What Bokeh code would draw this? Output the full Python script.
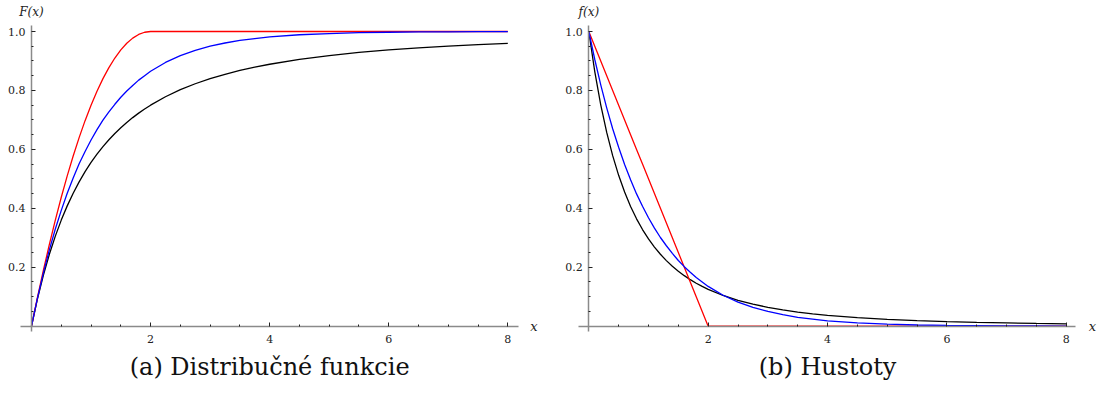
from bokeh.plotting import figure
from bokeh.layouts import row
from bokeh.models import FixedTicker, Label, Range1d
from bokeh.embed import file_html
from bokeh.resources import INLINE

# ---- data ----
x_vals = [0, 0.1, 0.2, 0.3, 0.4, 0.5, 0.6, 0.7, 0.8, 0.9, 1.0, 1.1, 1.2, 1.3, 1.4,
          1.5, 1.6, 1.7, 1.8, 1.9, 2.0,
          2.25, 2.5, 2.75, 3.0, 3.25, 3.5, 3.75, 4.0,
          4.5, 5.0, 5.5, 6.0, 6.5, 7.0, 7.5, 8.0]

cdf_black = [0, 0.093, 0.1736, 0.2439, 0.3056, 0.36, 0.4083, 0.4513, 0.4898, 0.5244,
             0.5556, 0.5838, 0.6094, 0.6327, 0.654, 0.6735, 0.6914, 0.7078, 0.723,
             0.737, 0.75,
             0.7785, 0.8025, 0.8227, 0.84, 0.8549, 0.8678, 0.879, 0.8889,
             0.9053, 0.9184, 0.9289, 0.9375, 0.9446, 0.9506, 0.9557, 0.96]
cdf_blue = [0, 0.095, 0.181, 0.259, 0.330, 0.393, 0.451, 0.503, 0.551, 0.593, 0.632,
            0.667, 0.699, 0.727, 0.753, 0.777, 0.798, 0.817, 0.835, 0.850, 0.865,
            0.895, 0.918, 0.936, 0.950, 0.961, 0.970, 0.976, 0.982,
            0.989, 0.993, 0.996, 0.9975, 0.9985, 0.999, 0.9994, 0.9997]
cdf_red = [0, 0.0975, 0.19, 0.2775, 0.36, 0.4375, 0.51, 0.5775, 0.64, 0.6975, 0.75,
           0.7975, 0.84, 0.8775, 0.91, 0.9375, 0.96, 0.9775, 0.99, 0.9975, 1.0,
           1.0, 1.0, 1.0, 1.0, 1.0, 1.0, 1.0, 1.0,
           1.0, 1.0, 1.0, 1.0, 1.0, 1.0, 1.0, 1.0]

pdf_black = [1.0, 0.8638, 0.7513, 0.6575, 0.5787, 0.512, 0.4552, 0.4064, 0.3644, 0.328,
             0.2963, 0.2685, 0.2441, 0.2226, 0.2035, 0.1866, 0.1715, 0.1579, 0.1458,
             0.1349, 0.125,
             0.1042, 0.0878, 0.0746, 0.064, 0.0553, 0.0481, 0.0421, 0.037,
             0.0291, 0.0233, 0.019, 0.0156, 0.013, 0.011, 0.0093, 0.008]
pdf_blue = [1.0, 0.905, 0.819, 0.741, 0.670, 0.607, 0.549, 0.497, 0.449, 0.407, 0.368,
            0.333, 0.301, 0.273, 0.247, 0.223, 0.202, 0.183, 0.165, 0.150, 0.135,
            0.105, 0.082, 0.064, 0.050, 0.039, 0.030, 0.024, 0.018,
            0.011, 0.007, 0.004, 0.0025, 0.0015, 0.001, 0.0006, 0.0003]
pdf_red = [1.0, 0.95, 0.9, 0.85, 0.8, 0.75, 0.7, 0.65, 0.6, 0.55, 0.5, 0.45, 0.4, 0.35,
           0.3, 0.25, 0.2, 0.15, 0.1, 0.05, 0.0,
           0.0, 0.0, 0.0, 0.0, 0.0, 0.0, 0.0, 0.0,
           0.0, 0.0, 0.0, 0.0, 0.0, 0.0, 0.0, 0.0]

x_major = [2, 4, 6, 8]
x_minor = [0.5, 1, 1.5, 2.5, 3, 3.5, 4.5, 5, 5.5, 6.5, 7, 7.5]
y_major = [0.2, 0.4, 0.6, 0.8, 1.0]
y_minor = [0.05, 0.1, 0.15, 0.25, 0.3, 0.35, 0.45, 0.5, 0.55, 0.65, 0.7, 0.75,
           0.85, 0.9, 0.95]
y_labels = {0.2: "0.2", 0.4: "0.4", 0.6: "0.6", 0.8: "0.8", 1.0: "1.0"}

captions = ["(a) Distribučné funkcie", "(b) Hustoty"]
ylabels = ["F(x)", "f(x)"]

SERIF = "DejaVu Serif"
CAP_FONT = "DejaVu Serif"

# vertical extent of the whole panel in data units (frame covers the figure)
Y_RANGE = (-0.2623, 1.1052)
Y_AXIS_BOUNDS = (-0.0193, 1.0204)


def make_panel(series, caption, ylab, x_range, x_bounds):
    p = figure(width=550, height=403, output_backend="svg", toolbar_location=None,
               x_range=Range1d(*x_range), y_range=Range1d(*Y_RANGE),
               min_border_left=0, min_border_right=0,
               min_border_top=0, min_border_bottom=0)
    p.outline_line_color = None
    p.xgrid.visible = False
    p.ygrid.visible = False
    p.background_fill_color = "white"
    p.border_fill_color = "white"

    for ys, col in series:
        p.line(x_vals, ys, line_color=col, line_width=1.3)

    for ax in (p.xaxis[0], p.yaxis[0]):
        ax.fixed_location = 0
        ax.axis_line_color = "#8a8a8a"
        ax.axis_line_width = 1.5
        ax.major_tick_line_color = "#222222"
        ax.minor_tick_line_color = "#222222"
        ax.major_tick_out = 0
        ax.major_tick_in = 4
        ax.minor_tick_out = 0
        ax.minor_tick_in = 2
        ax.major_label_text_font = SERIF
        ax.major_label_text_font_size = "11px"
        ax.major_label_text_color = "#222222"

    p.xaxis.bounds = x_bounds
    p.yaxis.bounds = Y_AXIS_BOUNDS
    p.xaxis.ticker = FixedTicker(ticks=x_major, minor_ticks=x_minor)
    p.yaxis.ticker = FixedTicker(ticks=y_major, minor_ticks=y_minor)
    p.yaxis.major_label_overrides = y_labels
    p.xaxis.major_label_standoff = 9
    p.yaxis.major_label_standoff = 6

    p.add_layout(Label(x=0, y=1.066, text=ylab, text_font=SERIF, text_font_style="italic",
                       text_font_size="12px", text_align="center", text_baseline="middle",
                       text_color="#222222"))
    p.add_layout(Label(x=8.44, y=0, text="x", text_font=SERIF, text_font_style="italic",
                       text_font_size="13px", text_align="center", text_baseline="middle",
                       text_color="#222222"))
    p.add_layout(Label(x=4.0, y=-0.138, text=caption, text_font=CAP_FONT,
                       text_font_size="24px", text_align="center", text_baseline="middle",
                       text_color="#111111"))
    return p


left = make_panel([(cdf_black, "black"), (cdf_red, "red"), (cdf_blue, "blue")],
                  captions[0], ylabels[0], (-0.5207, 8.717), (-0.185, 8.18))
right = make_panel([(pdf_black, "black"), (pdf_red, "red"), (pdf_blue, "blue")],
                   captions[1], ylabels[1], (-0.6418, 8.574), (-0.173, 8.155))

layout = row(left, right)
open("out.html", "w").write(file_html(layout, INLINE))
